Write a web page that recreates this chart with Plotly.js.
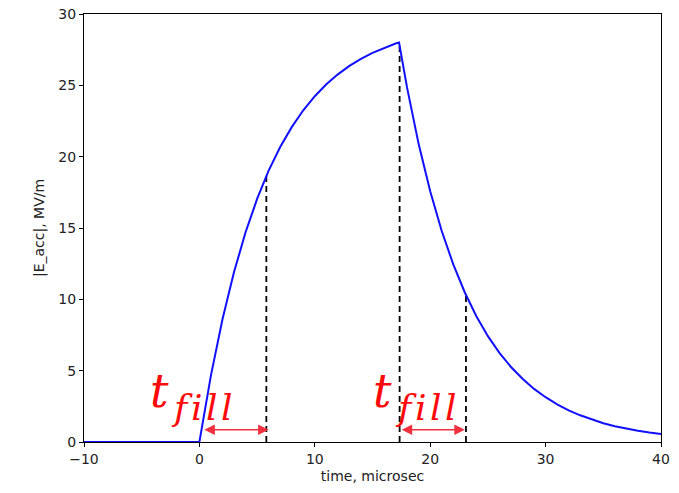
<!DOCTYPE html>
<html>
<head>
<meta charset="utf-8">
<script src="https://cdn.plot.ly/plotly-3.0.1.min.js"></script>
<style>html,body{margin:0;padding:0;background:#fff;}#chart{width:679px;height:493px;}</style>
</head>
<body>
<div id="chart"></div>
<script>
// time axis (microsec) and |E_acc| (MV/m)
const timeUs = [-10, 0, 1, 2, 3, 4, 5, 6, 7, 8, 9, 10, 11, 12, 13, 14, 15, 16, 17, 17.3,
  18, 19, 20, 21, 22, 23, 24, 25, 26, 27, 28, 29, 30, 31, 32, 33, 34, 35, 36, 37, 38, 39, 40];
const eAcc = [0, 0, 4.67, 8.60, 11.91, 14.70, 17.04, 19.02, 20.68, 22.07, 23.25, 24.24, 25.07, 25.77, 26.36, 26.86, 27.28, 27.63, 27.93, 28.0,
  24.82, 20.88, 17.58, 14.79, 12.45, 10.48, 8.82, 7.42, 6.25, 5.26, 4.43, 3.72, 3.14, 2.64, 2.22, 1.87, 1.57, 1.32, 1.11, 0.94, 0.79, 0.66, 0.56];

// dashed marker lines: time and field level
const markTime = [5.8, 17.35, 23.1];
const markLevel = [18.7, 28.0, 10.3];

// fill-time arrows: start, end, height
const arrowStart = [0.3, 17.4];
const arrowEnd = [6.0, 23.0];
const arrowY = 0.85;
// label parts: main symbol "t" and subscript "fill"
const labelMain = 't';
const labelSub = 'fill';
const mainX = [-3.5, 15.9];
const mainY = [3.55, 3.55];
const subX = [0.2, 19.6];
const subY = [2.45, 2.45];

const dashX = [], dashY = [];
markTime.forEach((t, i) => { dashX.push(t, t, null); dashY.push(0, markLevel[i], null); });

const traces = [
  {x: dashX, y: dashY, mode: 'lines', line: {color: '#000', width: 1.8, dash: '6px,4px'}, hoverinfo: 'skip'},
  {x: timeUs, y: eAcc, mode: 'lines', line: {color: '#1010ff', width: 2}, hoverinfo: 'skip'}
];

const arrowRed = '#f0303f';
const textRed = '#ff0a0a';
const annotations = [];
arrowStart.forEach((s, i) => {
  annotations.push({x: arrowEnd[i], y: arrowY, ax: s, ay: arrowY, xref: 'x', yref: 'y', axref: 'x', ayref: 'y',
    text: '', showarrow: true, arrowhead: 2, arrowside: 'end+start', arrowsize: 1.4, arrowwidth: 1.5, arrowcolor: arrowRed,
    standoff: 0, startstandoff: 0});
  annotations.push({x: mainX[i], y: mainY[i], xref: 'x', yref: 'y', showarrow: false,
    text: '<i>' + labelMain + '</i>',
    font: {family: 'DejaVu Serif', size: 46, color: textRed}});
  annotations.push({x: subX[i], y: subY[i], xref: 'x', yref: 'y', showarrow: false,
    text: '<i>' + labelSub.split('').join('\u200A') + '</i>',
    font: {family: 'DejaVu Serif', size: 36, color: textRed}});
});

const axisCommon = {
  showgrid: false, zeroline: false, showline: true, linecolor: '#000', linewidth: 1, mirror: true,
  ticks: 'outside', ticklen: 4, tickcolor: '#000', tickwidth: 1,
  tickfont: {family: 'DejaVu Sans', size: 14, color: '#222'}
};

const layout = {
  width: 679, height: 493,
  margin: {l: 84, r: 18, t: 14, b: 51},
  paper_bgcolor: '#fff', plot_bgcolor: '#fff',
  showlegend: false,
  xaxis: Object.assign({}, axisCommon, {range: [-10, 40], tickvals: [-10, 0, 10, 20, 30, 40], ticktext: ['\u221210', '0', '10', '20', '30', '40'],
    title: {text: 'time, microsec', font: {family: 'DejaVu Sans', size: 14, color: '#222'}, standoff: 5}}),
  yaxis: Object.assign({}, axisCommon, {range: [0, 30], tickvals: [0, 5, 10, 15, 20, 25, 30],
    title: {text: '|E_acc|, MV/m', font: {family: 'DejaVu Sans', size: 14, color: '#222'}, standoff: 10}}),
  annotations: annotations
};

Plotly.newPlot('chart', traces, layout, {staticPlot: true, displayModeBar: false});
</script>
</body>
</html>
